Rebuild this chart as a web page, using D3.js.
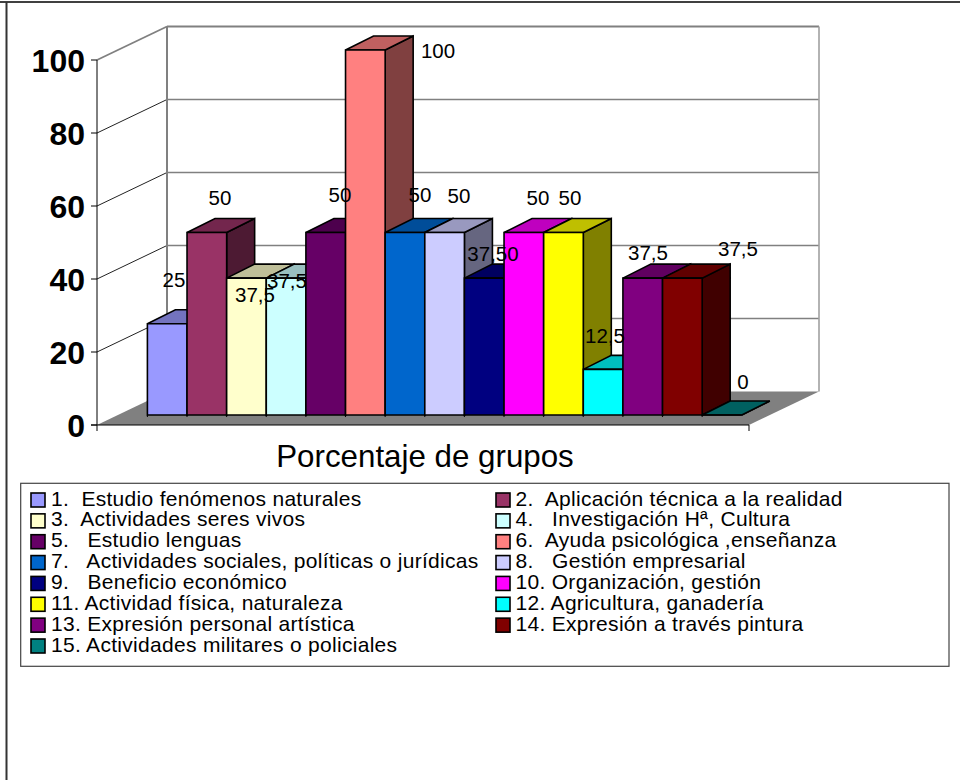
<!DOCTYPE html>
<html><head><meta charset="utf-8">
<style>html,body{margin:0;padding:0;background:#fff}svg{display:block}text{font-family:"Liberation Sans",Arial,sans-serif;fill:#000}</style>
<script src="https://cdn.jsdelivr.net/npm/d3@7"></script>
</head><body><svg id="c" width="960" height="780"></svg>
<script>
const categories=["1.  Estudio fenómenos naturales","2.  Aplicación técnica a la realidad","3.  Actividades seres vivos","4.   Investigación Hª, Cultura","5.   Estudio lenguas","6.  Ayuda psicológica ,enseñanza","7.   Actividades sociales, políticas o jurídicas","8.   Gestión empresarial","9.   Beneficio económico","10. Organización, gestión","11. Actividad física, naturaleza","12. Agricultura, ganadería","13. Expresión personal artística","14. Expresión a través pintura","15. Actividades militares o policiales"];
const values=[25,50,37.5,37.5,50,100,50,50,37.5,50,50,12.5,37.5,37.5,0];
const valueLabels=["25","50","37,5","37,5","50","100","50","50","37,50","50","50","12,5","37,5","37,5","0"];
const colors=["#9999FF","#993366","#FFFFCC","#CCFFFF","#660066","#FF8080","#0066CC","#CCCCFF","#000080","#FF00FF","#FFFF00","#00FFFF","#800080","#800000","#008080"];
const ticks=[0,20,40,60,80,100];
const labelX=[174,220,255,287,340,438,420,459,493,538,570,605,648,738,743];
const labelY=[287,205,302,288,202,58,202,203,261,205,205,343,260,256,389];

const svg=d3.select("#c");
const x=d3.scaleBand().domain(d3.range(values.length)).range([147.4,741.8]);
const yBar=d3.scaleLinear().domain([0,100]).range([415,50]);
const yFront=d3.scaleLinear().domain([0,100]).range([425,60]);
const yBack=d3.scaleLinear().domain([0,100]).range([391.5,26.5]);
const fx=97,bx=167,ex=819,fex=749,dx=28,dy=-14;
const line=(p,c,w)=>svg.append("path").attr("d",d3.line()(p)).attr("fill","none").attr("stroke",c).attr("stroke-width",w);

line([[0,2],[960,2]],"#000",1.6);
line([[6.5,2],[6.5,780]],"#333",2);

ticks.forEach(t=>{
  const edge=t===100||t===0;
  if(t>0){line([[bx,yBack(t)],[ex,yBack(t)]],"#808080",edge?1.8:1.4);
  line([[fx,yFront(t)],[bx,yBack(t)]],edge?"#808080":"#222",edge?1.8:1);}
  line([[fx-6,yFront(t)],[fx,yFront(t)]],"#000",1);
  svg.append("text").attr("x",85).attr("y",yFront(t)+12).attr("text-anchor","end").attr("font-size",32).attr("font-weight","bold").text(t);
});
line([[bx,yBack(0)],[bx,yBack(100)]],"#808080",2);
line([[ex,yBack(0)],[ex,yBack(100)]],"#a0a0a0",1.6);
svg.append("path").attr("d",d3.line()([[fx,425],[fex,425],[ex,yBack(0)],[bx,yBack(0)]])+"Z").attr("fill","#808080");
line([[fx,60],[fx,431]],"#000",1);
line([[fx-6,425],[fex,425]],"#000",1);
line([[fex,425],[fex,431]],"#000",1);

const g=svg.append("g").attr("stroke","#000").attr("stroke-width",1.6).attr("stroke-linejoin","miter");
values.forEach((v,i)=>{
  const l=x(i),r=l+x.bandwidth(),t=yBar(v),b=yBar(0),col=d3.color(colors[i]);
  const dark=k=>{const c=d3.rgb(col);return d3.rgb(c.r*k,c.g*k,c.b*k)+""};
  const poly=(p,f)=>g.append("path").attr("d",d3.line()(p)+"Z").attr("fill",f);
  poly([[r,b],[r+dx,b+dy],[r+dx,t+dy],[r,t]],dark(.5));
  poly([[l,t],[l+dx,t+dy],[r+dx,t+dy],[r,t]],dark(.75));
  poly([[l,b],[r,b],[r,t],[l,t]],colors[i]);
  line([[l,b],[l,b+2]],"#000",1);
});

values.forEach((v,i)=>svg.append("text").attr("x",labelX[i]).attr("y",labelY[i]).attr("text-anchor","middle").attr("font-size",20.5).text(valueLabels[i]));

svg.append("text").attr("x",425).attr("y",467).attr("text-anchor","middle").attr("font-size",31.3).text("Porcentaje de grupos");

svg.append("rect").attr("x",20.7).attr("y",483.3).attr("width",928.3).attr("height",183).attr("fill","#fff").attr("stroke","#444").attr("stroke-width",1.2);
const legendRow=d3.scaleLinear().domain([0,7]).range([500,646]);
categories.forEach((c,i)=>{
  const row=Math.floor(i/2),col=i%2,kx=col?496:31,tx=col?515.5:51,ry=legendRow(row);
  svg.append("rect").attr("x",kx).attr("y",ry-7).attr("width",14).attr("height",14).attr("fill",colors[i]).attr("stroke","#000").attr("stroke-width",1.6);
  svg.append("text").attr("x",tx).attr("y",ry+5.5).attr("font-size",21).attr("letter-spacing",0.3).style("white-space","pre").text(c);
});
</script></body></html>
